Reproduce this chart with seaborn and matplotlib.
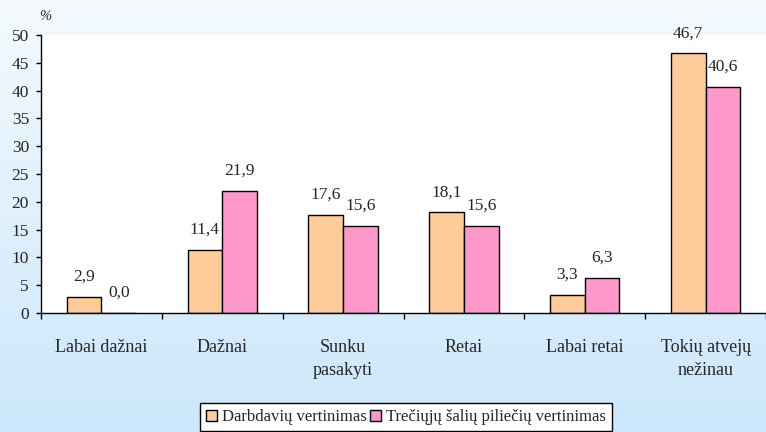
import numpy as np
import pandas as pd
import matplotlib
matplotlib.use('Agg')
import matplotlib.pyplot as plt
import seaborn as sns

categories = ['Labai dažnai', 'Dažnai', 'Sunku\npasakyti', 'Retai', 'Labai retai', 'Tokių atvejų\nnežinau']
darbdaviu = [2.9, 11.4, 17.6, 18.1, 3.3, 46.7]
treciuju = [0.0, 21.9, 15.6, 15.6, 6.3, 40.6]
series = ['Darbdavių vertinimas', 'Trečiųjų šalių piliečių vertinimas']
colors = ['#FFCC99', '#FF99CC']

df = pd.DataFrame({
    'kategorija': categories * 2,
    'reiksme': darbdaviu + treciuju,
    'serija': [series[0]] * 6 + [series[1]] * 6,
})

sns.set_style('white')
plt.rcParams['font.family'] = 'serif'
plt.rcParams['font.serif'] = ['Liberation Serif', 'DejaVu Serif']

fig = plt.figure(figsize=(7.66, 4.32), dpi=100)

# background gradient
bg = fig.add_axes([0, 0, 1, 1], zorder=-10)
grad = np.linspace(0, 1, 256).reshape(-1, 1)
top = np.array([0xf4, 0xfa, 0xff]) / 255
bot = np.array([0xcc, 0xe7, 0xfb]) / 255
img = top + (bot - top) * grad[..., None]
bg.imshow(img, aspect='auto', extent=[0, 1, 0, 1])
bg.set_axis_off()

ax = fig.add_axes([41 / 766, 1 - 313 / 432, 1 - 41 / 766, (313 - 35) / 432])
ax.set_facecolor('white')

sns.barplot(data=df, x='kategorija', y='reiksme', hue='serija', palette=colors,
            saturation=1, width=0.574, edgecolor='black', linewidth=1, ax=ax)

for cont in ax.containers:
    for bar in cont:
        h = bar.get_height()
        ax.annotate(f'{h:.1f}'.replace('.', ','), (bar.get_x() + bar.get_width() / 2, h),
                    xytext=(0, 14.5), textcoords='offset points', ha='center', va='center',
                    fontsize=12.5)

ax.set_xlim(-0.5, -0.5 + (766 - 41) / 122)
ax.set_ylim(0, 50)
ax.set_yticks(range(0, 51, 5))
ax.set_xlabel('')
ax.set_ylabel('')
ax.set_xticks(np.arange(-0.5, 6, 1), minor=True)
ax.tick_params(axis='x', which='major', length=0, pad=19, labelsize=13)
ax.tick_params(axis='x', which='minor', length=4.5, width=1, direction='out', color='black', bottom=True)
ax.tick_params(axis='y', length=3.6, width=1, direction='out', color='black', left=True, labelsize=12.5, pad=5)
for lbl in ax.get_xticklabels():
    lbl.set_linespacing(1.4)
    lbl.set_verticalalignment('top')

for s in ['top', 'right']:
    ax.spines[s].set_visible(False)
for s in ['left', 'bottom']:
    ax.spines[s].set_color('black')
    ax.spines[s].set_linewidth(1)

fig.text(45 / 766, 1 - 17 / 432, '%', fontsize=10.5, style='italic', ha='center', va='center')

ax.legend_.remove()
handles = [plt.Rectangle((0, 0), 1, 1, facecolor=c, edgecolor='black', linewidth=1) for c in colors]
leg = fig.legend(handles, series, loc='upper center', bbox_to_anchor=(406 / 766, 1 - 403 / 432),
                 ncol=2, fontsize=12, frameon=True, fancybox=False, handlelength=0.66,
                 handleheight=0.66, handletextpad=0.3, columnspacing=0.2, borderpad=0.36,
                 borderaxespad=0)
leg.get_frame().set_edgecolor('black')
leg.get_frame().set_linewidth(1)
leg.get_frame().set_facecolor('white')
leg.get_frame().set_alpha(1)

fig.savefig('out.png', dpi=100)
